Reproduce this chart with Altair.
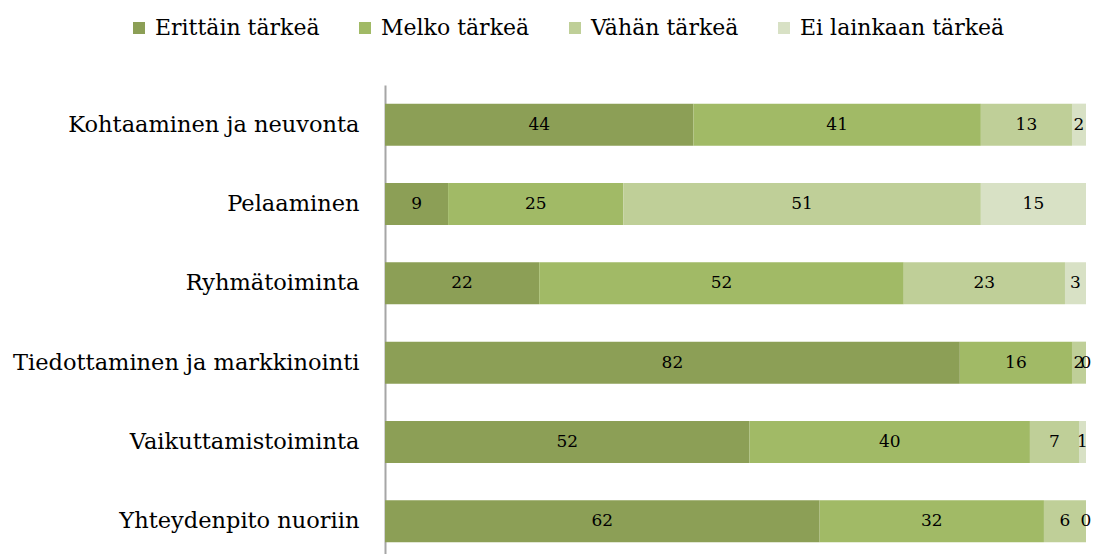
import altair as alt
import pandas as pd

categories = [
    "Kohtaaminen ja neuvonta",
    "Pelaaminen",
    "Ryhmätoiminta",
    "Tiedottaminen ja markkinointi",
    "Vaikuttamistoiminta",
    "Yhteydenpito nuoriin",
]
levels = ["Erittäin tärkeä", "Melko tärkeä", "Vähän tärkeä", "Ei lainkaan tärkeä"]
erittain = [44, 9, 22, 82, 52, 62]
melko = [41, 25, 52, 16, 40, 32]
vahan = [13, 51, 23, 2, 7, 6]
ei = [2, 15, 3, 0, 1, 0]
colors = ["#8C9F56", "#A1BA66", "#BFCF98", "#D8E1C5"]

rows = []
for i, c in enumerate(categories):
    for j, (lev, vals) in enumerate(zip(levels, [erittain, melko, vahan, ei])):
        rows.append({"cat": c, "level": lev, "order": j, "value": vals[i]})
df = pd.DataFrame(rows)

FONT = "DejaVu Serif"

base = alt.Chart(df).transform_stack(
    stack="value", groupby=["cat"], as_=["x0", "x1"], sort=[alt.SortField("order")]
).transform_calculate(mid="(datum.x0 + datum.x1) / 2")

yenc = alt.Y(
    "cat:N",
    sort=categories,
    title=None,
    scale=alt.Scale(paddingInner=0.47, paddingOuter=0.235),
    axis=alt.Axis(
        domain=True, domainColor="#A6A6A6", domainWidth=2, ticks=False,
        labelFont=FONT, labelFontSize=22.5, labelColor="#000000",
        labelPadding=26, labelLimit=400,
    ),
)

bars = base.mark_bar().encode(
    x=alt.X("x0:Q", scale=alt.Scale(domain=[0, 100], nice=False), axis=None),
    x2="x1:Q",
    y=yenc,
    color=alt.Color(
        "level:N",
        sort=levels,
        scale=alt.Scale(domain=levels, range=colors),
        legend=alt.Legend(
            title=None, orient="none", direction="horizontal", columns=4,
            legendX=-257, legendY=-68,
            symbolType="square", symbolSize=144, symbolStrokeWidth=0,
            labelFont=FONT, labelFontSize=22, labelColor="#000000",
            labelOffset=5, columnPadding=34, labelLimit=400,
        ),
    ),
)

labels = base.mark_text(font=FONT, fontSize=17, color="#000000").encode(
    x=alt.X("mid:Q", scale=alt.Scale(domain=[0, 100], nice=False)),
    y=alt.Y("cat:N", sort=categories),
    text="value:Q",
)

chart = (
    alt.layer(bars, labels)
    .properties(
        width=701,
        height=476,
        autosize=alt.AutoSizeParams(type="none"),
        padding={"left": 377, "top": 77, "right": 5, "bottom": 0},
    )
    .configure_view(stroke=None)
)

chart.save("out.html", embed_options={"renderer": "svg", "actions": False})
